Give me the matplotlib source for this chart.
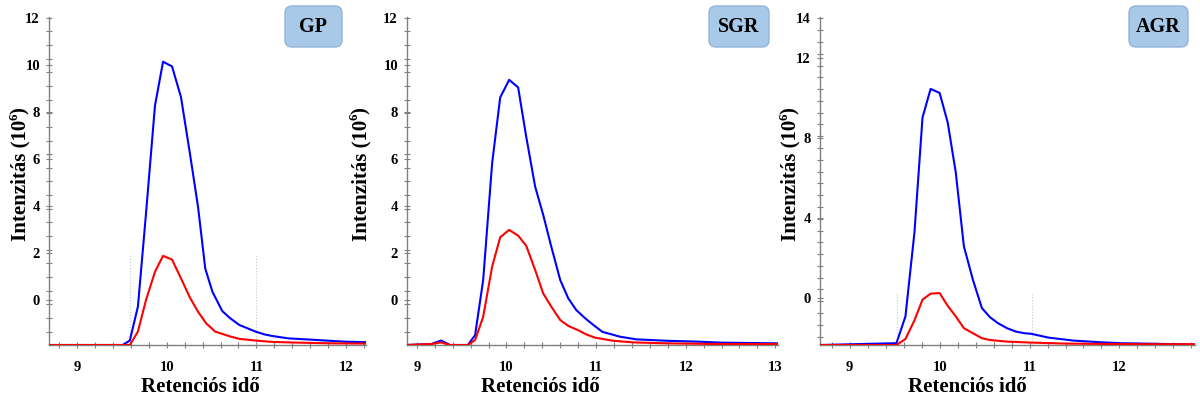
import numpy as np
import matplotlib
matplotlib.use("Agg")
import matplotlib.pyplot as plt
from matplotlib.patches import FancyBboxPatch
from matplotlib.ticker import FixedLocator, MultipleLocator

# ---------------- data ----------------
gp_blue_x = [8.69, 9.51, 9.59, 9.68, 9.77, 9.87, 9.96, 10.06, 10.16, 10.26, 10.35, 10.43, 10.51,
             10.62, 10.71, 10.81, 10.90, 10.99, 11.09, 11.18, 11.36, 11.55, 11.77, 11.99, 12.22]
gp_blue_y = [-1.91, -1.91, -1.72, -0.28, 3.67, 8.26, 10.13, 9.93, 8.62, 6.21, 3.95, 1.34, 0.35,
             -0.47, -0.78, -1.06, -1.20, -1.34, -1.46, -1.53, -1.63, -1.67, -1.72, -1.77, -1.79]
gp_red_x = [8.69, 9.59, 9.68, 9.77, 9.87, 9.96, 10.06, 10.16, 10.26, 10.35, 10.44, 10.54,
            10.62, 10.71, 10.81, 10.99, 11.18, 11.47, 11.84, 12.22]
gp_red_y = [-1.91, -1.91, -1.34, 0.0, 1.2, 1.88, 1.72, 0.92, 0.1, -0.5, -0.99, -1.34,
            -1.44, -1.55, -1.65, -1.72, -1.78, -1.81, -1.84, -1.85]

sgr_blue_x = [8.88, 9.16, 9.27, 9.37, 9.57, 9.65, 9.74, 9.84, 9.93, 10.03, 10.13, 10.22, 10.32,
              10.41, 10.50, 10.60, 10.69, 10.78, 10.88, 10.97, 11.07, 11.27, 11.45, 11.79,
              12.16, 12.39, 13.03]
sgr_blue_y = [-1.91, -1.87, -1.72, -1.91, -1.91, -1.49, 0.85, 5.82, 8.61, 9.36, 9.04, 6.95, 4.82,
              3.62, 2.27, 0.85, 0.07, -0.43, -0.78, -1.06, -1.35, -1.56, -1.67, -1.73,
              -1.77, -1.81, -1.84]
sgr_red_x = [8.88, 9.16, 9.27, 9.37, 9.57, 9.65, 9.74, 9.84, 9.93, 10.03, 10.13, 10.22, 10.32,
             10.41, 10.50, 10.60, 10.69, 10.80, 10.89, 10.99, 11.19, 11.42, 11.79, 12.39, 13.03]
sgr_red_y = [-1.91, -1.87, -1.80, -1.91, -1.91, -1.70, -0.71, 1.42, 2.67, 2.98, 2.74, 2.31, 1.28,
             0.28, -0.28, -0.85, -1.10, -1.28, -1.46, -1.60, -1.73, -1.80, -1.84, -1.87, -1.87]

agr_blue_x = [8.67, 9.52, 9.62, 9.72, 9.81, 9.90, 10.00, 10.09, 10.18, 10.27, 10.37, 10.47,
              10.56, 10.65, 10.75, 10.85, 10.94, 11.02, 11.21, 11.49, 11.78, 12.01, 12.53, 12.84]
agr_blue_y = [-2.35, -2.26, -0.92, 3.27, 9.04, 10.47, 10.27, 8.79, 6.28, 2.59, 0.92, -0.50,
              -0.96, -1.26, -1.51, -1.68, -1.76, -1.79, -1.98, -2.13, -2.21, -2.26, -2.30, -2.33]
agr_red_x = [8.67, 9.52, 9.62, 9.72, 9.81, 9.90, 10.00, 10.09, 10.18, 10.27, 10.37, 10.47,
             10.56, 10.75, 11.02, 11.41, 12.16, 12.84]
agr_red_y = [-2.35, -2.35, -2.05, -1.12, -0.08, 0.22, 0.25, -0.39, -0.92, -1.51, -1.76, -2.01,
             -2.10, -2.18, -2.23, -2.28, -2.31, -2.31]

panel_names = ["GP", "SGR", "AGR"]
x_ticks = [[9, 10, 11, 12], [9, 10, 11, 12, 13], [9, 10, 11, 12]]
y_ticks = [[0, 2, 4, 6, 8, 10, 12], [0, 2, 4, 6, 8, 10, 12], [0, 4, 8, 12, 14]]
x_lims = [(8.69, 12.22), (8.89, 13.03), (8.67, 12.84)]
y_lims = [(-1.91, 12.03), (-1.91, 12.03), (-2.35, 14.07)]
marker_lines = [[9.59, 11.0], [], [9.53, 11.03]]
marker_tops = [1.9, None, 0.25]

xlabel_text = "Retenciós idő"
ylabel_main = "Intenzitás (10"
ylabel_sup = "6"
ylabel_end = ")"

# ---------------- figure ----------------
plt.rcParams["font.family"] = ["Liberation Serif", "DejaVu Serif"]
plt.rcParams["font.weight"] = "bold"

W, H = 1200, 403
fig = plt.figure(figsize=(12, 4.03), dpi=100)

axes_px = [(49, 366), (407, 778), (820, 1195)]
top_px, bottom_px = 17, 345
series = [
    (gp_blue_x, gp_blue_y, gp_red_x, gp_red_y),
    (sgr_blue_x, sgr_blue_y, sgr_red_x, sgr_red_y),
    (agr_blue_x, agr_blue_y, agr_red_x, agr_red_y),
]
ylabel_x = [20, 361, 790]
xlabel_x = [200, 540, 967]
box_px = [(285, 342), (709, 769), (1129, 1188)]

fig.canvas.draw()
renderer = fig.canvas.get_renderer()

spine_col = "#808080"
for i in range(3):
    l, r = axes_px[i]
    ax = fig.add_axes([l / W, 1 - bottom_px / H, (r - l) / W, (bottom_px - top_px) / H])
    bx, by, rx, ry = series[i]
    for xv in marker_lines[i]:
        ax.plot([xv, xv], [y_lims[i][0], marker_tops[i]], color="#c8c8c8", lw=0.8, ls=":")
    ax.plot(bx, by, color="#0000ff", lw=1.5, zorder=3)
    ax.plot(rx, ry, color="#ff0000", lw=1.5, zorder=4)
    ax.set_xlim(*x_lims[i])
    ax.set_ylim(*y_lims[i])
    ax.set_xticks(x_ticks[i])
    ax.set_yticks(y_ticks[i])
    ax.xaxis.set_minor_locator(MultipleLocator(0.2))
    top = y_lims[i][1]
    step = 0.58 if i < 2 else 0.59
    ax.yaxis.set_minor_locator(FixedLocator(np.arange(round(top), y_lims[i][0], -step)))
    for s in ["top", "right"]:
        ax.spines[s].set_visible(False)
    for s in ["left", "bottom"]:
        ax.spines[s].set_color(spine_col)
        ax.spines[s].set_linewidth(1.0)
    ax.tick_params(axis="both", which="both", direction="inout", color=spine_col, width=0.8)
    ax.tick_params(axis="both", which="major", length=5)
    ax.tick_params(axis="both", which="minor", length=4)
    ax.tick_params(axis="x", which="major", pad=9, labelsize=10.5)
    ax.tick_params(axis="y", which="major", pad=4, labelsize=10.5)
    for lab in ax.get_xticklabels() + ax.get_yticklabels():
        lab.set_fontweight("bold")

    # y label composed of main text + small raised "6" + ")"
    fs = 15
    t_main = fig.text(0, 0, ylabel_main, rotation=90, fontsize=fs, fontweight="bold")
    t_sup = fig.text(0, 0, ylabel_sup, rotation=90, fontsize=fs * 0.62, fontweight="bold")
    t_end = fig.text(0, 0, ylabel_end, rotation=90, fontsize=fs, fontweight="bold")
    h_main = t_main.get_window_extent(renderer).height
    h_sup = t_sup.get_window_extent(renderer).height
    h_end = t_end.get_window_extent(renderer).height
    total = h_main + h_sup + h_end
    yc = H - 174
    y0 = yc - total / 2
    xc = ylabel_x[i]
    t_main.set_position((xc / W, y0 / H))
    t_main.set_ha("center"); t_main.set_va("bottom")
    t_sup.set_position(((xc - 6) / W, (y0 + h_main) / H))
    t_sup.set_ha("center"); t_sup.set_va("bottom")
    t_end.set_position((xc / W, (y0 + h_main + h_sup) / H))
    t_end.set_ha("center"); t_end.set_va("bottom")

    fig.text(xlabel_x[i] / W, 1 - 387 / H, xlabel_text, ha="center", va="center",
             fontsize=15, fontweight="bold")

    b0, b1 = box_px[i]
    bt, bb = 6, 47
    patch = FancyBboxPatch((b0, H - bb), (b1 - b0), (bb - bt),
                           boxstyle="round,pad=0,rounding_size=7",
                           transform=None, facecolor="#a9c9e9",
                           edgecolor="#93b4d8", lw=1.0)
    fig.patches.append(patch)
    fig.text((b0 + b1) / 2 / W, 1 - (bt + bb) / 2 / H, panel_names[i], ha="center",
             va="center", fontsize=14.5, fontweight="bold")

fig.savefig("out.png", dpi=100)
